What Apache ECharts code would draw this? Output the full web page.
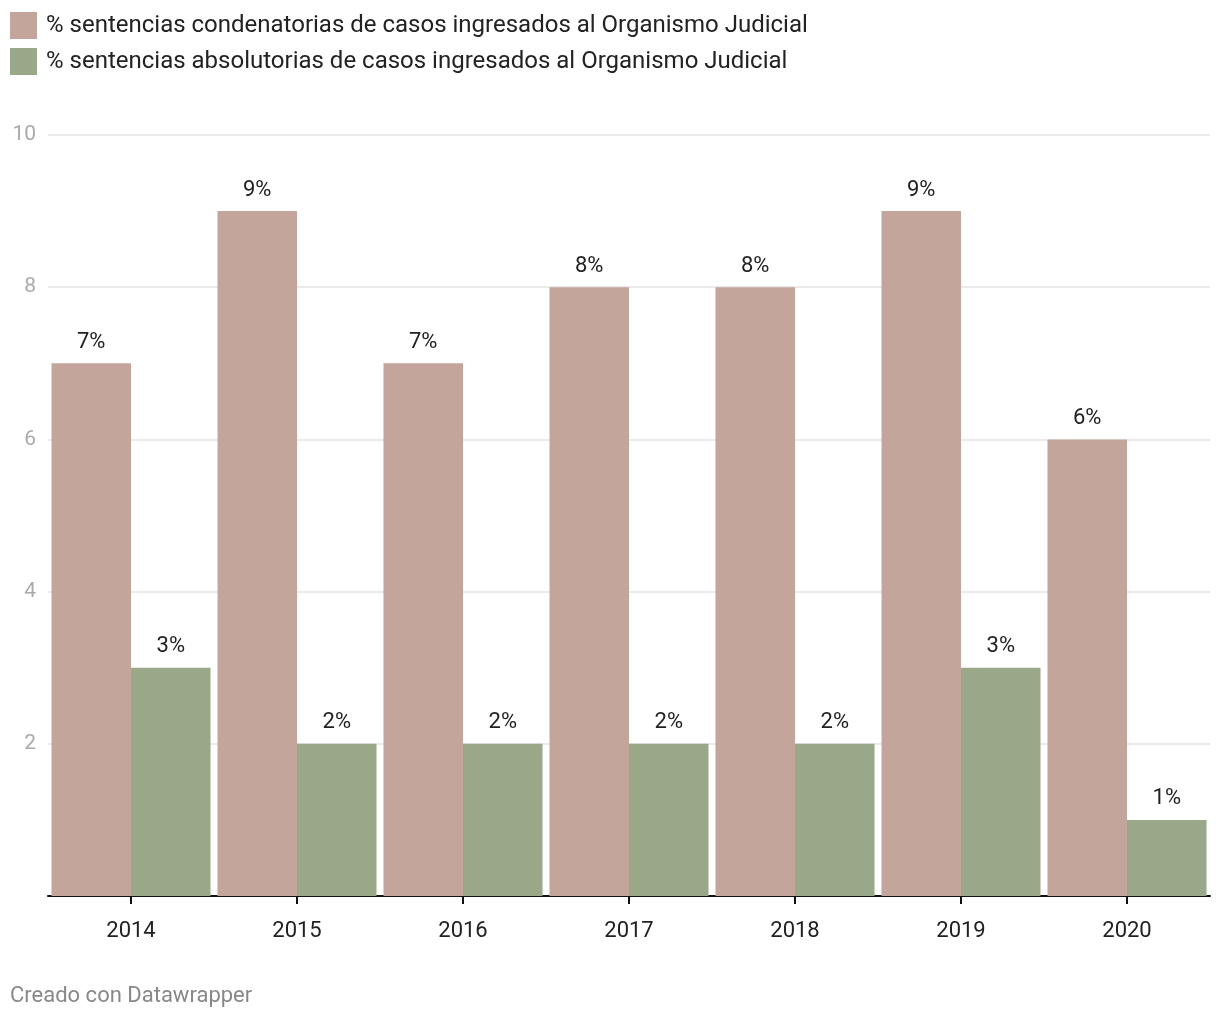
<!DOCTYPE html>
<html><head><meta charset="utf-8">
<script src="https://cdn.jsdelivr.net/npm/echarts@6/dist/echarts.min.js"></script>
<style>html,body{margin:0;padding:0;background:#fff}#c{width:1220px;height:1020px}</style>
</head><body><div id="c"></div>
<script>
const categories = ['2014','2015','2016','2017','2018','2019','2020'];
const condenatorias = [7, 9, 7, 8, 8, 9, 6];
const absolutorias = [3, 2, 2, 2, 2, 3, 1];
const yTicks = [0, 2, 4, 6, 8, 10];
const seriesNames = ['% sentencias condenatorias de casos ingresados al Organismo Judicial','% sentencias absolutorias de casos ingresados al Organismo Judicial'];
const font = 'Roboto, "Noto Sans", sans-serif';
const chart = echarts.init(document.getElementById('c'), null, {renderer:'canvas'});
const lbl = {show:true, position:'top', distance:10, formatter:p=>p.value+'%', color:'#222', fontSize:22, fontFamily:font};
chart.setOption({
  animation:false,
  textStyle:{fontFamily:font},
  legend:{orient:'vertical', left:10, top:12, padding:0, itemWidth:27, itemHeight:27, itemGap:9,
    icon:'rect', textStyle:{fontSize:24, color:'#222', fontFamily:font, padding:[0,0,0,4]}},
  grid:{left:48, right:10, top:135, bottom:124, containLabel:false},
  xAxis:{type:'category', data:categories,
    axisLine:{lineStyle:{color:'#111', width:2}},
    axisTick:{show:true, alignWithLabel:true, length:8, lineStyle:{color:'#111', width:2}},
    axisLabel:{fontSize:22, color:'#222', margin:24, fontFamily:font}},
  yAxis:{type:'value', min:yTicks[0], max:yTicks[yTicks.length-1], interval:2,
    axisLine:{show:false}, axisTick:{show:false},
    axisLabel:{fontSize:21, color:'#aaa', margin:12, fontFamily:font, formatter:v=>v===0?'':String(v)},
    splitLine:{lineStyle:{color:'#e3e3e3', width:1.5}}},
  series:[
    {name:seriesNames[0], type:'bar', data:condenatorias, barGap:'0%', barCategoryGap:'4.2%',
     itemStyle:{color:'#c4a59b'}, label:lbl},
    {name:seriesNames[1], type:'bar', data:absolutorias,
     itemStyle:{color:'#99a888'}, label:lbl}
  ],
  graphic:[{type:'text', left:10, top:985, style:{text:'Creado con Datawrapper', fontSize:22, fill:'#888', fontFamily:font}}]
});
</script></body></html>
